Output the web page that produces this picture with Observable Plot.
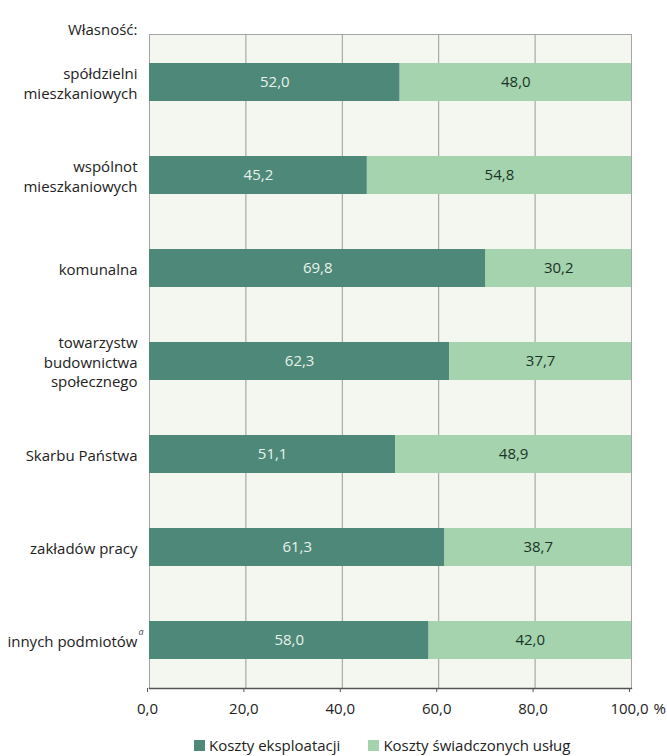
<!DOCTYPE html>
<html lang="pl">
<head>
<meta charset="utf-8">
<script src="https://cdn.jsdelivr.net/npm/d3@7"></script>
<script src="https://cdn.jsdelivr.net/npm/@observablehq/plot@0.6"></script>
<style>
  body { margin: 0; background: #fff; font-family: "Open Sans", sans-serif; }
  #chart svg { display: block; }
  .legend { display: flex; gap: 28px; padding-left: 194px; margin-top: 10px; font-size: 15px; line-height: 20px; color: #222; align-items: center; }
  .legend span.item { display: flex; align-items: center; gap: 4px; }
  .legend i { display: inline-block; width: 11px; height: 11px; }
</style>
</head>
<body>
<div id="chart"></div>
<script>
// Struktura kosztów według formy własności (%)
const categories = [
  "spółdzielni\nmieszkaniowych",
  "wspólnot\nmieszkaniowych",
  "komunalna",
  "towarzystw\nbudownictwa\nspołecznego",
  "Skarbu Państwa",
  "zakładów pracy",
  "innych podmiotów"
];
const footnoteMarks = [{category: "innych podmiotów", mark: "a"}];
const kosztyEksploatacji = [52.0, 45.2, 69.8, 62.3, 51.1, 61.3, 58.0];
const kosztyUslug = [48.0, 54.8, 30.2, 37.7, 48.9, 38.7, 42.0];
const seriesNames = ["Koszty eksploatacji", "Koszty świadczonych usług"];
const xTicks = [0, 20, 40, 60, 80, 100];
const axisTitle = "Własność:";
const unitLabel = "%";

const colors = ["#4e8878", "#a4d3ae"];
const fmt = v => d3.format(".1f")(v).replace(".", ",");

const rows = categories.flatMap((c, i) => [
  {category: c, series: seriesNames[0], value: kosztyEksploatacji[i]},
  {category: c, series: seriesNames[1], value: kosztyUslug[i]}
]);

const chart = Plot.plot({
  width: 667,
  height: 725,
  marginTop: 34,
  marginBottom: 37,
  marginLeft: 149,
  marginRight: 36,
  style: {fontFamily: "'Open Sans', sans-serif", fontSize: "15px", color: "#222"},
  x: {domain: [0, 100], ticks: xTicks},
  y: {domain: categories, paddingInner: 0.593, paddingOuter: 0.3},
  color: {domain: seriesNames, range: colors},
  marks: [
    Plot.frame({fill: "#f3f7f0", stroke: "#a5a5a5"}),
    Plot.gridX(xTicks.slice(1, -1), {stroke: "#9a9a9a", strokeOpacity: 1}),
    Plot.barX(rows, Plot.stackX({x: "value", y: "category", fill: "series", order: seriesNames})),
    Plot.text(rows, Plot.stackX({
      x: "value", y: "category", z: "series", order: seriesNames,
      text: d => fmt(d.value),
      fill: d => d.series === seriesNames[0] ? "#e8f2ec" : "#1b3326",
      fontSize: 15
    })),
    Plot.axisY({tickSize: 0, tickPadding: 12, lineHeight: 1.3, label: null, fontSize: 15, fill: "#222"}),
    Plot.text(footnoteMarks, {
      x: 0, y: "category", text: "mark", dx: -11, dy: -8,
      textAnchor: "start", fontSize: 9, fontStyle: "italic", fill: "#444"
    }),
    Plot.frame({anchor: "bottom", stroke: "#555", strokeWidth: 1.3}),
    Plot.axisX({ticks: xTicks, tickSize: 4, tickPadding: 11, tickFormat: fmt, label: null, stroke: "#555", fontSize: 15, fill: "#222", dx: -2}),
    Plot.text([axisTitle], {frameAnchor: "top-left", dx: -12, dy: -10, textAnchor: "end", fontSize: 15, fill: "#222"}),
    Plot.text([unitLabel], {frameAnchor: "bottom-right", dx: 22, dy: 21, textAnchor: "start", lineAnchor: "middle", fontSize: 15, fill: "#222"})
  ]
});

document.getElementById("chart").append(chart);

const legend = document.createElement("div");
legend.className = "legend";
seriesNames.forEach((name, i) => {
  const item = document.createElement("span");
  item.className = "item";
  const sw = document.createElement("i");
  sw.style.background = colors[i];
  item.append(sw, name);
  legend.append(item);
});
document.body.append(legend);
</script>
</body>
</html>
